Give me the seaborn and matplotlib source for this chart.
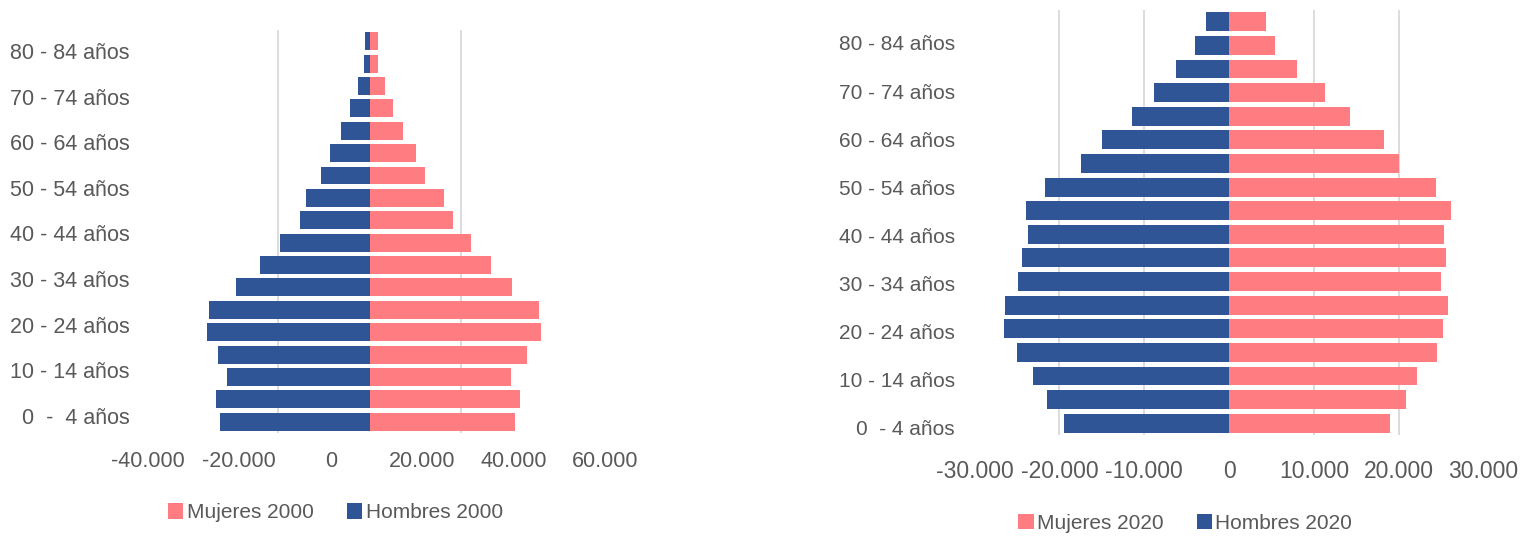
import matplotlib.pyplot as plt
import numpy as np
import pandas as pd
import seaborn as sns

# Age groups, bottom (0-4) to top (85+)
edades = ['0 - 4 años', '5 - 9 años', '10 - 14 años', '15 - 19 años', '20 - 24 años',
          '25 - 29 años', '30 - 34 años', '35 - 39 años', '40 - 44 años', '45 - 49 años',
          '50 - 54 años', '55 - 59 años', '60 - 64 años', '65 - 69 años', '70 - 74 años',
          '75 - 79 años', '80 - 84 años', '85 y más años']

# Population 2000 (men as negative values, as in the source sheet)
hombres_2000 = [-32800, -33500, -31250, -33050, -35450, -35200, -29300, -23950, -19500,
                -15200, -13850, -10700, -8750, -6200, -4200, -2500, -1150, -1000]
mujeres_2000 = [31900, 32800, 31000, 34500, 37500, 37150, 31200, 26600, 22150,
                18300, 16250, 12200, 10100, 7400, 5100, 3300, 1800, 1900]

# Population 2020
hombres_2020 = [-19500, -21500, -23150, -25000, -26500, -26400, -24900, -24400, -23700,
                -23900, -21700, -17500, -14950, -11400, -8900, -6300, -4000, -2700]
mujeres_2020 = [18950, 20850, 22200, 24550, 25250, 25850, 24950, 25600, 25350,
                26200, 24450, 20000, 18250, 14300, 11350, 8000, 5450, 4400]

# Visible y tick labels (every other age group)
etiquetas_2000 = ['0  -  4 años', '10 - 14 años', '20 - 24 años', '30 - 34 años',
                  '40 - 44 años', '50 - 54 años', '60 - 64 años', '70 - 74 años',
                  '80 - 84 años']
etiquetas_2020 = ['0  - 4 años', '10 - 14 años', '20 - 24 años', '30 - 34 años',
                  '40 - 44 años', '50 - 54 años', '60 - 64 años', '70 - 74 años',
                  '80 - 84 años']

ticks_2000 = [-40000, -20000, 0, 20000, 40000, 60000]
ticks_2020 = [-30000, -20000, -10000, 0, 10000, 20000, 30000]

ROSA = '#FF7C80'
AZUL = '#2F5597'
GRIS = '#595959'
REJILLA = '#D9D9D9'

sns.set_theme(style='white')
plt.rcParams['font.family'] = ['Liberation Sans', 'DejaVu Sans']
plt.rcParams['text.color'] = GRIS


def fmt(v):
    return f'{v:,}'.replace(',', '.')


def piramide(ax, hombres, mujeres, anio, etiquetas, ticks, rejilla, xlim,
             desplazamiento=0, ylab=(17.0, 2.0), xsize=15.5, ysize=15.5, xpad=20):
    n = len(edades)
    df = pd.DataFrame({
        'edad': edades * 2,
        'valor': list(mujeres) + list(hombres),
        'serie': [f'Mujeres {anio}'] * n + [f'Hombres {anio}'] * n,
    })
    sns.barplot(df, x='valor', y='edad', hue='serie', order=edades[::-1],
                hue_order=[f'Mujeres {anio}', f'Hombres {anio}'],
                palette=[ROSA, AZUL], dodge=False, width=0.8, saturation=1,
                linewidth=0, ax=ax, legend=True, zorder=2)

    # y labels every other group; the source spaces them slightly wider than the bars
    ax.set_yticks([ylab[0] - ylab[1] * k for k in range(len(etiquetas))], labels=etiquetas)
    ax.set_ylim(n - 0.5, -0.5)

    # gridlines as minor ticks, value labels as major ticks
    ax.xaxis.remove_overlapping_locs = False
    ax.set_xticks(rejilla, minor=True)
    ax.set_xticks(np.array(ticks) + desplazamiento, labels=[fmt(t) for t in ticks])
    ax.set_xlim(*xlim)
    ax.grid(False)
    ax.grid(axis='x', which='minor', color=REJILLA, linewidth=1.3, zorder=0)
    ax.set_axisbelow(True)
    ax.tick_params(axis='both', which='both', length=0, colors=GRIS)
    ax.tick_params(axis='x', labelsize=xsize, pad=xpad)
    ax.tick_params(axis='y', labelsize=ysize, pad=8)
    ax.set_xlabel('')
    ax.set_ylabel('')
    sns.despine(ax=ax, left=True, bottom=True)


fig = plt.figure(figsize=(15.24, 5.37), dpi=100)
ax1 = fig.add_axes([0.0925, 0.1937, 0.309, 0.7505])
ax2 = fig.add_axes([0.6339, 0.19, 0.3451, 0.7914])

# the 2000 chart has its value labels drawn offset from the bars in the source
piramide(ax1, hombres_2000, mujeres_2000, 2000, etiquetas_2000, ticks_2000,
         [-20000, 20000], (-50000, 53000), desplazamiento=-8500,
         ylab=(16.74, 2.0375), xsize=15.5, ysize=15.5, xpad=13)
piramide(ax2, hombres_2020, mujeres_2020, 2020, etiquetas_2020, ticks_2020,
         [-20000, -10000, 10000, 20000], (-31000, 31000),
         ylab=(17.17, 2.034), xsize=16.5, ysize=15, xpad=18)

for ax, cx, cy in [(ax1, 0.22, 0.045), (ax2, 0.7776, 0.026)]:
    ax.legend(loc='center', bbox_to_anchor=(cx, cy), bbox_transform=fig.transFigure,
              ncol=2, frameon=False, fontsize=15, handlelength=0.75, handleheight=0.75,
              handletextpad=0.15, columnspacing=1.6, labelcolor=GRIS)

fig.savefig('out.png', dpi=100)
